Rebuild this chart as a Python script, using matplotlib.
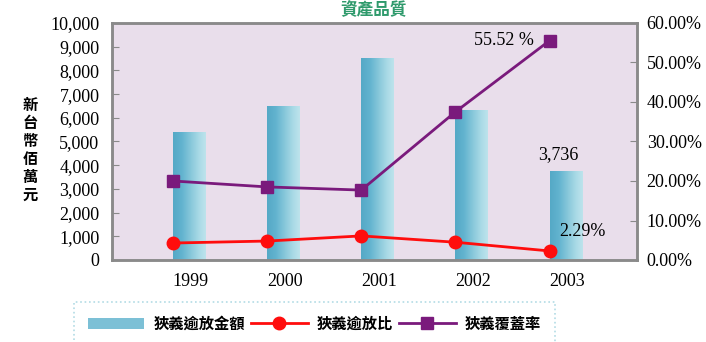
import numpy as np
import matplotlib
matplotlib.use("agg")
import matplotlib.pyplot as plt
from matplotlib.lines import Line2D
from matplotlib.patches import Rectangle
from matplotlib.colors import LinearSegmentedColormap

plt.rcParams['font.family'] = ['Liberation Serif', 'Noto Sans CJK TC']

# data
years = ['1999', '2000', '2001', '2002', '2003']
npl_amount = [5400, 6500, 8520, 6330, 3736]        # 新台幣佰萬元
npl_ratio = [4.3, 4.8, 6.1, 4.5, 2.29]             # %
coverage = [20.0, 18.5, 17.7, 37.5, 55.52]         # %

left_ticks = list(range(0, 10001, 1000))
right_ticks = list(range(0, 61, 10))

cjk = ['Noto Sans CJK TC', 'DejaVu Sans']
bg = '#e9deeb'
spine_c = '#8a8a8a'
red = '#ff0d0d'
purple = '#7a1a7c'
bar_cmap = LinearSegmentedColormap.from_list(
    'bar', ['#55a9c6', '#62b3cf', '#86c7da', '#a9dae6', '#c4e6ee'])

fig = plt.figure(figsize=(7.06, 3.42), dpi=100)
ax = fig.add_axes([112/706, 82/342, 525/706, 237/342])
ax.set_facecolor(bg)
ax2 = ax.twinx()

x = np.arange(len(years))
bw = 0.37

# bars with a left-to-right shade
grad = np.linspace(0, 1, 64).reshape(1, -1)
for xi, v in zip(x, npl_amount):
    im = ax.imshow(grad, cmap=bar_cmap, aspect='auto',
                   extent=(xi, xi + bw, 0, v), zorder=2)
    clip = Rectangle((xi, 0), bw * 0.94, v, transform=ax.transData)
    im.set_clip_path(clip)
ax.set_xlim(-0.65, 4.93)
ax.set_ylim(0, 10000)

ax2.plot(x, npl_ratio, color=red, lw=2, marker='o', ms=9, zorder=3)
ax2.plot(x, coverage, color=purple, lw=2, marker='s', ms=9, zorder=3)
ax2.set_ylim(0, 60)

ax.set_yticks(left_ticks)
ax.set_yticklabels([f'{t:,}' for t in left_ticks])
ax2.set_yticks(right_ticks)
ax2.set_yticklabels([f'{t:.2f}%' for t in right_ticks])
ax.set_xticks(x + bw / 2)
ax.set_xticklabels(years)

ax.tick_params(axis='y', direction='in', length=5, color=spine_c,
               labelsize=13, pad=9)
ax2.tick_params(axis='y', direction='in', length=5, color=spine_c,
                labelsize=13, pad=7)
ax.tick_params(axis='x', length=0, labelsize=13, pad=9)
for a in (ax, ax2):
    for s in a.spines.values():
        s.set_color(spine_c)
        s.set_linewidth(1.8)

# value labels
ax2.annotate('55.52 %', (x[4], coverage[4]), xytext=(-33, 0),
             textcoords='offset points', ha='center', va='center',
             fontsize=13)
ax.annotate(f'{npl_amount[4]:,}', (x[4] + bw / 2, npl_amount[4]),
            xytext=(-6, 12), textcoords='offset points', ha='center',
            va='center', fontsize=13)
ax2.annotate(f'{npl_ratio[4]:.2f}%', (x[4], npl_ratio[4]), xytext=(24, 14),
             textcoords='offset points', ha='center', va='center',
             fontsize=13)

# axis title, one character per line
fig.text(30/706, 1 - 150/342, '\n'.join('新台幣佰萬元'), family=cjk,
         fontsize=11, fontweight='bold', ha='center', va='center',
         linespacing=1.15)

# chart title above the plot area
fig.text(374/706, 1 - 10/342, '資產品質', family=cjk, fontsize=12,
         fontweight='bold', color='#2f9a6c', ha='center', va='center')

# legend
handles = [
    Rectangle((0, 0), 1, 1, facecolor='#7cc0d6', edgecolor='none'),
    Line2D([], [], color=red, lw=2, marker='o', ms=9),
    Line2D([], [], color=purple, lw=2, marker='s', ms=9),
]
labels = ['狹義逾放金額', '狹義逾放比', '狹義覆蓋率']
leg = fig.legend(handles, labels, loc='upper left',
                 bbox_to_anchor=(74/706, 1 - 302/342), ncol=3,
                 prop={'family': cjk, 'size': 11, 'weight': 'bold'},
                 frameon=True, fancybox=False, handlelength=3.7,
                 columnspacing=0.4, handletextpad=0.6, borderpad=0.9,
                 borderaxespad=0)
leg.get_frame().set_edgecolor('#9fd3de')
leg.get_frame().set_linestyle(':')
leg.get_frame().set_linewidth(1.2)

fig.savefig('out.png', dpi=100)
